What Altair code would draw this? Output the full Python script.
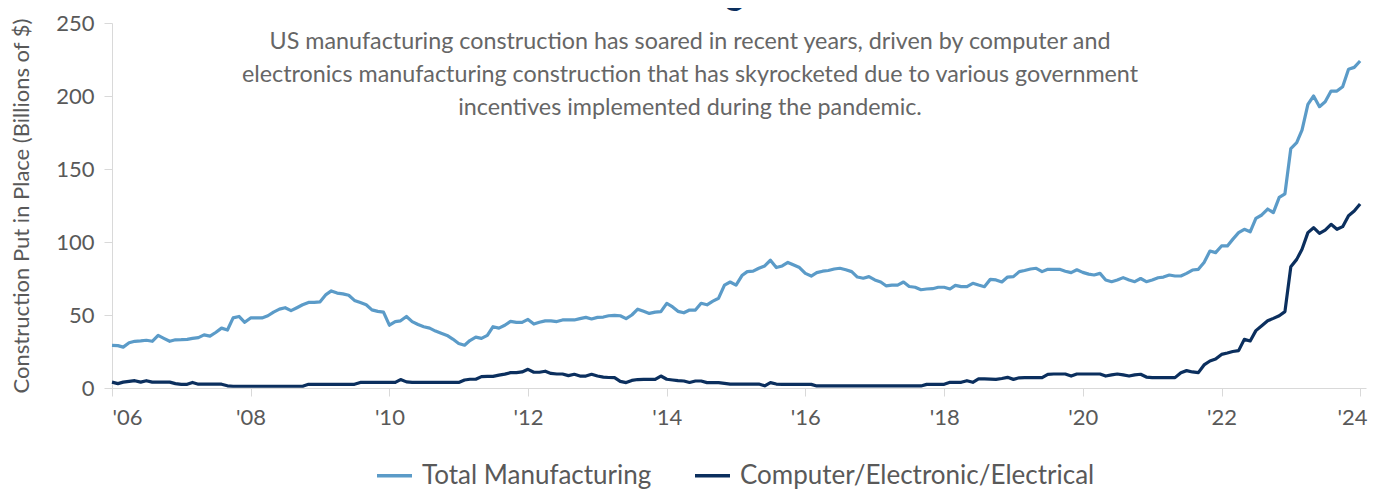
import altair as alt
import pandas as pd

start_month = "2006-01-01"

total = [
    29.2, 29, 28, 31, 32, 32.3, 32.7, 32, 36, 34, 32, 33,
    33.1, 33.3, 34, 34.5, 36.4, 35.5, 38, 41, 39.7, 48, 49, 45,
    48, 48, 48, 49.5, 52, 54, 55, 53, 55, 57, 58.6, 58.6,
    59, 64, 66.5, 65, 64.5, 63.5, 60, 58.5, 57, 53.5, 52.5, 52,
    43, 45.5, 46, 49, 45.5, 43.5, 42, 41, 39, 37.5, 36, 33.5,
    30.5, 29.3, 32.5, 34.8, 34, 36, 42, 41, 43, 45.6, 45, 44.9,
    47, 43.8, 45, 46, 46, 45.5, 46.6, 46.6, 46.6, 47.5, 48.4, 47.3,
    48.4, 48.6, 49.5, 49.8, 49.5, 47.5, 50, 54, 52.5, 51.1, 52, 52.3,
    58, 55.5, 52.5, 51.5, 53.4, 53.4, 58, 57, 59.5, 61.5, 70.5, 72.6,
    70.5, 77, 79.7, 80, 82, 83.6, 87.5, 82.5, 83.6, 86, 84.2, 82.5,
    78.5, 76.7, 79, 80, 80.5, 81.5, 82, 81, 79.7, 76, 75.2, 76.3,
    74, 72.6, 70, 70.5, 70.5, 72.6, 69.5, 69, 67.3, 67.8, 68, 69,
    69, 67.8, 70.3, 69.4, 69.5, 71.7, 70.5, 69.4, 74.4, 74, 72.6, 76,
    76.3, 79.7, 80.5, 81.5, 82, 79.7, 81.3, 81.3, 81.3, 80, 79, 81,
    79.2, 78, 77.4, 78.5, 74, 72.8, 74, 75.6, 74, 72.8, 75, 72.8,
    74, 75.5, 76, 77.4, 76.7, 76.7, 78.5, 80.8, 81.3, 86, 93.8, 92.7,
    97.3, 97.3, 101.8, 106.4, 108.7, 107, 116.2, 118.5, 122.6, 120.1, 130.6, 133,
    164, 168, 176.7, 194.3, 200, 192.7, 196, 203.4, 203.4, 206.4, 218.3, 219.6, 224,
]

computer = [
    4, 3, 4, 4.5, 5, 4, 5, 4, 4, 4, 4, 3,
    2.5, 2.5, 3.8, 2.6, 2.6, 2.6, 2.6, 2.6, 1.5, 1.2, 1.2, 1.2,
    1.2, 1.2, 1.2, 1.2, 1.2, 1.2, 1.2, 1.2, 1.2, 1.2, 2.5, 2.5,
    2.5, 2.5, 2.5, 2.5, 2.5, 2.5, 2.5, 3.8, 3.8, 3.8, 3.8, 3.8,
    3.8, 3.8, 5.8, 4.2, 3.8, 3.8, 3.8, 3.8, 3.8, 3.8, 3.8, 3.8,
    3.8, 5.5, 6, 6, 7.8, 8, 8, 8.8, 9.5, 10.5, 10.5, 11,
    12.8, 10.8, 10.8, 11.5, 10, 9.6, 9.6, 8.5, 9.4, 8.2, 8.2, 9.4,
    8.2, 7.5, 7.2, 7.1, 4.5, 3.7, 5.2, 5.8, 5.9, 5.9, 5.9, 8.2,
    6, 5.5, 5, 4.8, 3.8, 4.8, 4.8, 3.7, 3.7, 3.7, 3.2, 2.7,
    2.7, 2.7, 2.7, 2.7, 2.7, 1.5, 3.7, 2.7, 2.5, 2.5, 2.5, 2.5,
    2.5, 2.5, 1.4, 1.4, 1.4, 1.4, 1.4, 1.4, 1.4, 1.4, 1.4, 1.4,
    1.4, 1.4, 1.4, 1.4, 1.4, 1.4, 1.4, 1.4, 1.4, 2.5, 2.5, 2.5,
    2.5, 3.9, 3.9, 3.9, 5, 3.9, 6.2, 6.2, 6.1, 5.9, 6.5, 7.3,
    5.9, 7, 7.1, 7.1, 7.1, 7.1, 9.3, 9.6, 9.6, 9.6, 8.2, 9.6,
    9.6, 9.6, 9.6, 9.6, 8.2, 9, 9.6, 9, 8.2, 9, 9.4, 7.5,
    7.1, 7.1, 7.1, 7.1, 7.1, 10.5, 11.9, 11, 10.5, 15.8, 18.5, 19.8,
    23, 24, 25, 25.6, 33.3, 32.2, 39.3, 42.7, 46.1, 47.7, 49.5, 52.3,
    83.1, 88.1, 95, 106.4, 109.8, 105.9, 108.2, 112.1, 108.7, 110.5, 118, 121.2, 126,
]

series_names = ["Total Manufacturing", "Computer/Electronic/Electrical"]
series_colors = ["#5b9bc8", "#0b2f5e"]
y_ticks = [0, 50, 100, 150, 200, 250]
x_tick_years = [2006, 2008, 2010, 2012, 2014, 2016, 2018, 2020, 2022, 2024]

title_text = "Manufacturing Mania!"
subtitle_lines = [
    "US manufacturing construction has soared in recent years, driven by computer and",
    "electronics manufacturing construction that has skyrocketed due to various government",
    "incentives implemented during the pandemic.",
]
y_title = "Construction Put in Place (Billions of $)"

FONT = "Source Sans Pro, Lato, sans-serif"
GRAY = "#595959"

dates = pd.date_range(start_month, periods=len(total), freq="MS").strftime("%Y-%m-%d")
df = pd.concat([
    pd.DataFrame({"date": dates, "value": total, "series": series_names[0]}),
    pd.DataFrame({"date": dates, "value": computer, "series": series_names[1]}),
])

x_enc = alt.X(
    "date:T",
    scale=alt.Scale(
        type="utc",
        domain=[alt.DateTime(year=2006, month=1, date=1, utc=True),
                alt.DateTime(year=2024, month=2, date=1, utc=True)],
    ),
    axis=alt.Axis(
        values=[alt.DateTime(year=y, month=1, date=1, utc=True) for y in x_tick_years],
        labelExpr="\"'\" + utcFormat(datum.value, '%y')",
        title=None, grid=False,
        domainColor="#d9d9d9", tickColor="#d9d9d9", tickSize=8,
        labelFontSize=22, labelColor=GRAY, labelFont=FONT, labelPadding=11,
        labelOffset={"condition": {"test": "utcyear(datum.value) == 2024", "value": -8},
                     "value": 0},
    ),
)
y_enc = alt.Y(
    "value:Q",
    scale=alt.Scale(domain=[0, 250], nice=False),
    axis=alt.Axis(
        values=y_ticks, title=y_title, grid=False,
        domainColor="#d9d9d9", tickColor="#d9d9d9", tickSize=8,
        labelFontSize=22, labelColor=GRAY, labelFont=FONT, labelPadding=10,
        titleFontSize=22, titleFontWeight="normal", titleColor=GRAY, titleFont=FONT,
        titlePadding=22,
    ),
)

lines = alt.Chart(df).mark_line(strokeWidth=3.2, strokeJoin="round").encode(
    x=x_enc,
    y=y_enc,
    color=alt.Color(
        "series:N",
        scale=alt.Scale(domain=series_names, range=series_colors),
        sort=series_names,
        legend=alt.Legend(
            orient="none", legendX=263, legendY=433, direction="horizontal",
            title=None, symbolType="stroke", symbolStrokeWidth=3.5, symbolSize=1225,
            labelFontSize=26, labelFont=FONT, labelColor=GRAY, columnPadding=36,
            labelOffset=8, labelLimit=600,
        ),
    ),
    order=alt.Order("date:T"),
)

one = pd.DataFrame({"k": [0]})
subtitle = alt.Chart(one).mark_text(
    text=subtitle_lines, font=FONT, fontSize=23.3, color="#666666",
    align="center", baseline="alphabetic", lineHeight=33,
).encode(x=alt.value(578), y=alt.value(26))

title = alt.Chart(one).mark_text(
    text=title_text, font=FONT, fontSize=34, fontWeight="bold", color="#0b2f5e",
    align="center", baseline="alphabetic",
).encode(x=alt.value(576), y=alt.value(-18))

chart = alt.layer(lines, subtitle, title).properties(
    width=1254, height=365,
    padding={"left": 104, "top": 15, "right": 3, "bottom": 101},
    autosize=alt.AutoSizeParams(type="none"),
).configure_view(stroke=None)

chart.save("out.html", embed_options={"renderer": "svg", "actions": False})
